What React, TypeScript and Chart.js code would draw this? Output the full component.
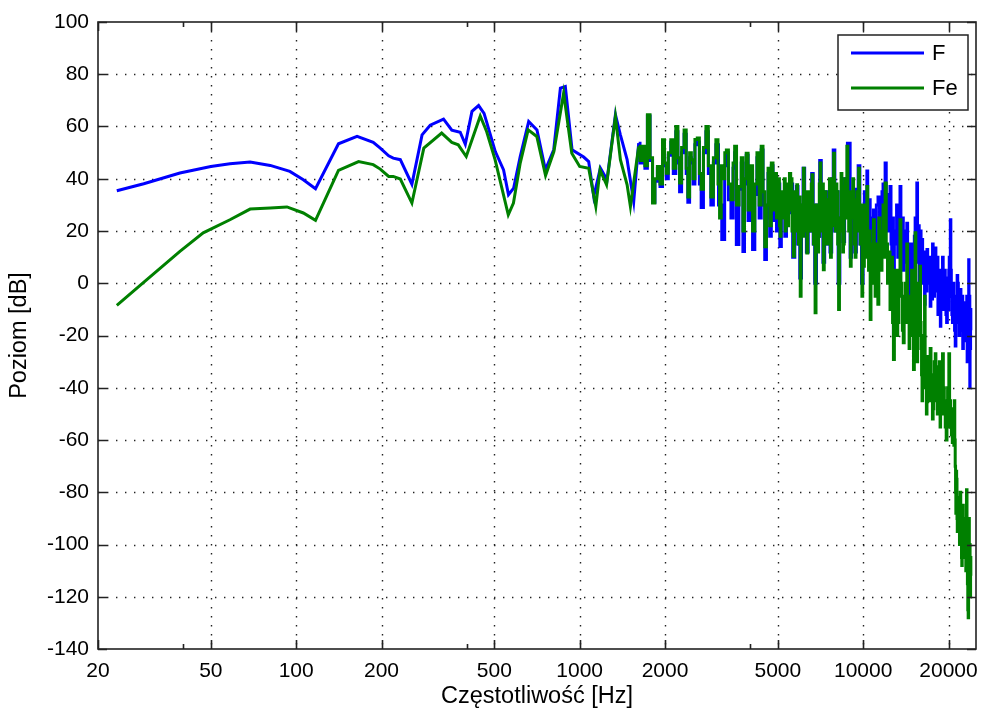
import React, { useEffect, useRef } from 'react';
import { Chart, registerables } from 'chart.js';

Chart.register(...registerables);

const xTickValues = [20, 50, 100, 200, 500, 1000, 2000, 5000, 10000, 20000];
const xMinorTickValues = [40, 400, 4000];
const yTickValues = [-140, -120, -100, -80, -60, -40, -20, 0, 20, 40, 60, 80, 100];

const seriesNames = ['F', 'Fe'];
const seriesColors = ['#0000ff', '#008000'];
// above this frequency the spectrum is dense and drawn as a stepped trace
const denseFrom = 1615;

// F (blue)
const freqF = [
  23.3, 29, 38.9, 50, 58.4, 68.8, 81, 95, 106, 117, 141, 164, 187, 198, 212, 220, 233, 256, 278, 297,
  331, 354, 379, 395, 417, 440, 460, 471, 504, 539, 561, 585, 617, 661, 707, 757, 810, 855, 890, 940,
  1033, 1076, 1121, 1183, 1249, 1337, 1392, 1470, 1551,
  1615, 1650, 1682, 1715, 1752, 1790, 1825, 1860, 1900, 1940, 1979, 2005, 2034, 2075, 2118, 2160, 2206,
  2235, 2267, 2310, 2361, 2390, 2424, 2460, 2494, 2530, 2570, 2628, 2660, 2705, 2760, 2817, 2870, 2935,
  2990, 3056, 3120, 3223, 3270, 3314, 3380, 3453, 3500, 3541, 3597, 3690, 3740, 3790, 3840, 3895, 3960,
  4030, 4115, 4180, 4260, 4330, 4405, 4460, 4530, 4587, 4650, 4710, 4775, 4840, 4905, 4990, 5050, 5110,
  5180, 5250, 5330, 5400, 5470, 5580, 5700, 5780, 5850, 5930, 6020, 6100, 6175, 6260, 6350, 6450, 6540,
  6625, 6700, 6790, 6900, 6980, 7070, 7160, 7260, 7370, 7470, 7570, 7700, 7790, 7890, 8000, 8100, 8220,
  8330, 8440, 8550, 8650, 8950, 9040, 9160, 9280, 9400, 9530, 9670, 9800, 9930,
  10060, 10130, 10200, 10270, 10340, 10410, 10480, 10550, 10620, 10690,
  10760, 10830, 10910, 10980, 11060, 11200, 11360, 11480, 11600, 11700,
  11800, 11900, 12000, 12120, 12250, 12370, 12500, 12570, 12650, 12740,
  12830, 12940, 13050, 13180, 13300, 13420, 13550, 13620, 13700, 13800,
  13900, 14000, 14100, 14200, 14300, 14390, 14480, 14560, 14650, 14760,
  14880, 14990, 15100, 15200, 15300, 15400, 15520, 15580, 15650, 15720,
  15800, 15870, 15950, 16050, 16160, 16250, 16330, 16420, 16500, 16580,
  16670, 16750, 16830, 16940, 17050, 17170, 17290, 17370, 17450, 17530,
  17600, 17700, 17800, 17900, 18000, 18100, 18200, 18300, 18400, 18500,
  18600, 18680, 18750, 18830, 18900, 19000, 19100, 19200, 19300, 19420,
  19530, 19640, 19750, 19870, 20000, 20080, 20150, 20250, 20340, 20420,
  20500, 20600, 20700, 20820, 20950, 21060, 21180, 21290, 21400, 21500,
  21600, 21720, 21850, 21950, 22060, 22180, 22300, 22400, 22500, 22620,
  22750, 22860, 22970, 23060, 23150, 23230, 23300, 23380, 23450, 23520,
  23600, 23650, 23700, 23750, 23800, 23850, 23900, 23950, 24000,
];
const levelF = [
  35.4, 38.1, 42.2, 44.7, 45.7, 46.4, 45.1, 42.8, 39.6, 36.2, 53.4, 56.2, 53.9, 51.7, 48.8, 47.9, 47.3, 37.9, 56.8, 60.5,
  62.8, 58.6, 57.8, 53.2, 65.8, 68, 65, 61.3, 50.4, 43.4, 33.9, 36.4, 48.5, 61.9, 58.7, 43.4, 51.1, 74.7, 75.3, 51.1,
  48.3, 46.6, 33.2, 44.1, 39.6, 64.5, 56.8, 47.3, 31.3,
  53.6, 46, 52, 44, 64, 47, 31, 39, 44, 37, 54, 45, 40, 49, 54, 42, 58,
  46, 35, 50, 57, 42, 31, 48, 46, 38, 53, 54, 38, 29, 50, 58, 42, 30,
  46, 53, 30, 16.7, 45, 50, 32, 25, 44, 50, 14.8, 36, 46, 12.2, 38, 49, 24,
  43, 12.9, 34, 48, 25, 51, 30, 9.1, 25, 42, 18, 45, 24, 41, 20, 38, 14.1,
  32, 31, 18, 36, 27, 38, 10, 28, 37, 15, 2, 30, 44, 20, 12, 34, 20,
  42, 15, 0, 30, 18, 47, 25, 8, 35, 15, 30, 12, 40, 51, 20, 35, 0,
  25, 38, 16, 40, 53.6, 10, 28, 33, 12, 36, 45, 15, 0,
  20, 35, 30, 15, 43, 25, 20, 32, 10, 22,
  25, 14, 28, 20, 12, 30, 33, 18, 20, 35,
  38, 22, 46, 30, 20, 34, 37, 15, 10, 25,
  -19, 15, 20, 30, 10, 28, 37, 20, 15, 25,
  5, 18, 20, 8, 23, 10, 0, 15, -5, 12,
  15, 0, 2.7, 18, 25, 8, 38.4, 15, 10, 22,
  0, 12, 20, 5, 16.7, 8, 0, 12, -8, 5,
  10, -3, 12.9, 3, 0, 10, -8.8, 2, 5, -6,
  15, 0, -5, 8, 13.5, -3, 0, 10, -12, 2,
  5, -8, -16.5, 0, 0, -10, 10, -5, -10, 5,
  0.2, -12, -15, 2, -10, 5, 10, -5, 24.3, 5,
  0, -12, -15, 0, -5, -18, -24, -5, -10, 3,
  0, -15, -20, -5, -2.4, -18, -15, -5, -25, -8,
  -10, -22, -7.5, -15, -20, -5, -30, -12, -10, -25,
  9, -15, -20, -5, -40, -20, -25, -10, -18,
];

// Fe (green)
const freqFe = [
  23.3, 28.9, 38.9, 47, 58.4, 68.8, 81, 92.8, 106, 117, 141, 166, 187, 198, 212, 220, 233, 256, 282, 326,
  354, 373, 398, 446, 470, 503, 560, 584, 617, 658, 706, 758, 811, 878, 938, 1000, 1076, 1140, 1180, 1244,
  1337, 1392, 1470, 1510, 1573,
  1615, 1650, 1682, 1715, 1752, 1790, 1825, 1860, 1900, 1940, 1979, 2005, 2034, 2075, 2118, 2160, 2206,
  2235, 2267, 2310, 2361, 2390, 2424, 2460, 2494, 2530, 2570, 2628, 2660, 2705, 2760, 2817, 2870, 2935,
  2990, 3056, 3095, 3135, 3180, 3230, 3270, 3314, 3380, 3453, 3500, 3541, 3610, 3690, 3740, 3790, 3840,
  3895, 3960, 4030, 4115, 4180, 4260, 4330, 4405, 4460, 4530, 4587, 4650, 4710, 4775, 4840, 4905,
  4990, 5020, 5050, 5080, 5110, 5150, 5180, 5215, 5250, 5290,
  5330, 5365, 5400, 5435, 5470, 5520, 5580, 5640, 5700, 5740,
  5780, 5815, 5850, 5890, 5930, 5975, 6020, 6060, 6100, 6140,
  6175, 6220, 6260, 6305, 6350, 6400, 6450, 6495, 6540, 6580,
  6625, 6660, 6700, 6745, 6790, 6845, 6900, 6940, 6980, 7025,
  7070, 7115, 7160, 7210, 7260, 7315, 7370, 7420, 7470, 7520,
  7570, 7635, 7700, 7745, 7790, 7840, 7890, 7945, 8000, 8050,
  8100, 8160, 8220, 8275, 8330, 8385, 8440, 8495, 8550, 8600,
  8650, 8720, 8800, 8860, 8920, 8980, 9040, 9100, 9160, 9220,
  9280, 9340, 9400, 9465, 9530, 9600, 9670, 9735, 9800, 9865,
  9930, 9995, 10060, 10130, 10200, 10270, 10340, 10410, 10480, 10550,
  10620, 10690, 10760, 10830, 10910, 10980, 11060, 11140, 11220, 11310,
  11400, 11500, 11600, 11700, 11800, 11900, 12000, 12120, 12250, 12370,
  12500, 12570, 12650, 12740, 12830, 12940, 13050, 13180, 13300, 13420,
  13550, 13620, 13700, 13800, 13900, 14000, 14100, 14200, 14300, 14390,
  14480, 14560, 14650, 14760, 14880, 14990, 15100, 15200, 15300, 15370,
  15450, 15520, 15600, 15670, 15750, 15820, 15900, 15960, 16030, 16100,
  16160, 16250, 16330, 16420, 16500, 16580, 16670, 16750, 16830, 16940,
  17050, 17170, 17290, 17400, 17500, 17600, 17700, 17780, 17850, 17920,
  18000, 18100, 18200, 18320, 18450, 18520, 18600, 18650, 18700, 18800,
  18900, 19000, 19100, 19250, 19400, 19550, 19700, 19800, 19900, 20000,
  20100, 20250, 20400, 20550, 20700, 20780, 20850, 20920, 21000, 21080,
  21150, 21200, 21250, 21320, 21400, 21450, 21500, 21650, 21800, 21920,
  22050, 22120, 22200, 22250, 22300, 22400, 22500, 22600, 22700, 22820,
  22950, 23080, 23200, 23280, 23350, 23420, 23500, 23580, 23650, 23720,
  23800, 23850, 23900, 23950, 24000,
];
const levelFe = [
  -8.5, 0.2, 12.2, 19.3, 24.3, 28.4, 28.8, 29.2, 26.9, 24.1, 43.2, 46.6, 45.4, 43.7, 40.9, 40.9, 39.9, 30.7, 51.7, 57.5,
  53.9, 53, 48.5, 64, 58, 47.3, 26.2, 30.7, 46, 58.7, 56.2, 41.2, 50.4, 72.8, 49.8, 44.7, 44, 29.4, 43.4, 37.7,
  63.8, 47.3, 37.7, 29.4, 43.4,
  52.4, 47, 52.4, 45, 64.5, 48, 30.7, 40, 44.7, 38, 54.9, 46, 42.1, 50, 54.9, 44, 60,
  48, 38.4, 52, 58.7, 44, 33, 50, 47.3, 40, 55, 55.6, 42, 36, 52, 60, 45, 33,
  48, 54.9, 38, 25, 45, 40, 50, 51, 38, 32, 46, 52.4, 30, 37, 48, 20, 40,
  49.8, 28, 45, 20, 38, 50, 30, 52.4, 35, 14, 30, 44, 22, 46, 28, 42,
  25, 36, 40, 22, 18, 30, 35, 25, 32, 40,
  20, 30, 38, 22, 28, 42, 40, 20, 10.3, 35,
  30, 20, 37.7, 28, 15, 33, -5, 25, 30, 18,
  44, 30, 20, 35, 11.6, 28, 35, 22, 20, 38,
  41.5, 25, 15, 30, -11.3, 20, 30, 12, 18, 38,
  46, 20, 25, 38, 5.2, 28, 35, 18, 15, 32,
  29.4, 40, 10, 25, 40, 22, 49.8, 30, 20, 38,
  35, 15, -10, 20, 25, 42, 37, 12, 15, 30,
  40, 25, 52.4, 30, 20, 35, 6.5, 25, 28, 40,
  32, 15, 10, 30, 35, 20, 44, 25, 15, 30,
  -5, 20, 6.5, 30, 25, 10, 37, 15, 5, 20,
  -13.9, 10, 15, 0, 24.3, 10, -5, 15, 0.2, -8,
  25, 10, 5, 20, 30, 10, 38.4, 15, 0, 12,
  -10, 5, 10, -15, -29.2, -5, 5, -20, -15, 5,
  24.3, 0, -5, -18, -22.8, -5, 0, -15, 15, -5,
  -10, -25, -17.7, -5, 5, -20, -33, -10, 19.3, -5,
  -15, -30, -20, -8, 0, -20, 6.5, -15, -25, -35,
  -45, -30, -20, -40, -5, -28, -35, -50, -45.4, -28,
  -30, -45, -25, -35, -40, -52, -48, -35, -30, -45,
  -27, -38, -40, -50, -44, -32, -30, -48, -55, -40,
  -35, -50, -27, -40, -45, -55, -60, -45, -40, -55,
  -27, -45, -50, -58, -61, -48, -50, -62, -45, -60,
  -70, -80, -88, -72, -75, -90, -95, -82, -85, -100,
  -80, -90, -95, -105, -108, -92, -85, -100, -90, -105,
  -100, -110, -79, -100, -115, -125, -128, -105, -90, -112,
  -100, -118, -120, -105, -112,
];

const FONT = '"Liberation Sans", Arial, sans-serif';

const matlabAxes = {
  id: 'matlabAxes',
  beforeDatasetsDraw(chart: any) {
    const { ctx, chartArea: a, scales } = chart;
    const x = scales.x;
    const y = scales.y;
    ctx.save();
    ctx.strokeStyle = '#222';
    ctx.lineWidth = 1.4;
    ctx.setLineDash([1.4, 7.6]);
    for (const t of xTickValues) {
      const px = Math.round(x.getPixelForValue(t)) + 0.5;
      if (px <= a.left + 2 || px >= a.right - 2) continue;
      ctx.beginPath();
      ctx.moveTo(px, a.top);
      ctx.lineTo(px, a.bottom);
      ctx.stroke();
    }
    for (const t of yTickValues) {
      const py = Math.round(y.getPixelForValue(t)) + 0.5;
      if (py <= a.top + 2 || py >= a.bottom - 2) continue;
      ctx.beginPath();
      ctx.moveTo(a.left, py);
      ctx.lineTo(a.right, py);
      ctx.stroke();
    }
    ctx.restore();
  },
  afterDatasetsDraw(chart: any) {
    const { ctx, chartArea: a, scales } = chart;
    const x = scales.x;
    const y = scales.y;
    ctx.save();
    ctx.setLineDash([]);
    ctx.strokeStyle = '#222';
    ctx.lineWidth = 1.6;
    ctx.strokeRect(a.left, a.top, a.right - a.left, a.bottom - a.top);
    const L = 9;
    ctx.beginPath();
    for (const t of xTickValues) {
      const px = Math.round(x.getPixelForValue(t)) + 0.5;
      ctx.moveTo(px, a.bottom);
      ctx.lineTo(px, a.bottom - L);
      ctx.moveTo(px, a.top);
      ctx.lineTo(px, a.top + L);
    }
    for (const t of xMinorTickValues) {
      const px = Math.round(x.getPixelForValue(t)) + 0.5;
      ctx.moveTo(px, a.bottom);
      ctx.lineTo(px, a.bottom - 5);
      ctx.moveTo(px, a.top);
      ctx.lineTo(px, a.top + 5);
    }
    for (const t of yTickValues) {
      const py = Math.round(y.getPixelForValue(t)) + 0.5;
      ctx.moveTo(a.left, py);
      ctx.lineTo(a.left + L, py);
      ctx.moveTo(a.right, py);
      ctx.lineTo(a.right - L, py);
    }
    ctx.stroke();

    // legend box (MATLAB style, inside the axes at top-right)
    const bw = 130;
    const bh = 75;
    const bx = a.right - 138;
    const by = a.top + 13;
    ctx.fillStyle = '#fff';
    ctx.fillRect(bx, by, bw, bh);
    ctx.lineWidth = 1.5;
    ctx.strokeStyle = '#222';
    ctx.strokeRect(bx, by, bw, bh);
    ctx.font = `22px ${FONT}`;
    ctx.textBaseline = 'middle';
    ctx.textAlign = 'left';
    seriesNames.forEach((name, i) => {
      const ly = by + 18 + i * 35;
      ctx.strokeStyle = seriesColors[i];
      ctx.lineWidth = 3;
      ctx.beginPath();
      ctx.moveTo(bx + 13, ly);
      ctx.lineTo(bx + 86, ly);
      ctx.stroke();
      ctx.fillStyle = '#000';
      ctx.fillText(name, bx + 94, ly + 1);
    });
    ctx.restore();
  },
};

function toPoints(freqs: number[], levels: number[], dense: boolean) {
  const pts: { x: number; y: number }[] = [];
  freqs.forEach((f, i) => {
    if (dense ? f >= denseFrom : f <= denseFrom) pts.push({ x: f, y: levels[i] });
  });
  return pts;
}

function makeDatasets(name: string, color: string, freqs: number[], levels: number[], order: number) {
  const base = {
    label: name,
    borderColor: color,
    backgroundColor: color,
    borderWidth: 3,
    pointRadius: 0,
    tension: 0,
    order,
  };
  return [
    { ...base, data: toPoints(freqs, levels, false) },
    { ...base, data: toPoints(freqs, levels, true), stepped: 'middle' as const },
  ];
}

export default function App() {
  const canvasRef = useRef<HTMLCanvasElement | null>(null);

  useEffect(() => {
    const canvas = canvasRef.current;
    if (!canvas) return;
    const chart = new Chart(canvas, {
      type: 'line',
      data: {
        datasets: [
          ...makeDatasets(seriesNames[0], seriesColors[0], freqF, levelF, 2),
          ...makeDatasets(seriesNames[1], seriesColors[1], freqFe, levelFe, 1),
        ],
      },
      options: {
        responsive: false,
        animation: false,
        events: [],
        layout: { padding: { left: 0, top: 22, right: 5, bottom: 0 } },
        plugins: {
          legend: { display: false },
          tooltip: { enabled: false },
        },
        scales: {
          x: {
            type: 'logarithmic',
            min: 20,
            max: 25000,
            grid: { display: false },
            border: { display: false },
            afterBuildTicks: (scale: any) => {
              scale.ticks = xTickValues.map((v) => ({ value: v }));
            },
            afterFit: (scale: any) => {
              scale.height = 66;
            },
            ticks: {
              autoSkip: false,
              maxRotation: 0,
              padding: 2,
              color: '#000',
              font: { family: FONT, size: 21 },
              callback: (v: any) => String(v),
            },
            title: {
              display: true,
              text: 'Częstotliwość [Hz]',
              color: '#000',
              font: { family: FONT, size: 23.5 },
              padding: { top: 0, bottom: 4 },
            },
          },
          y: {
            type: 'linear',
            min: -140,
            max: 100,
            grid: { display: false },
            border: { display: false },
            afterBuildTicks: (scale: any) => {
              scale.ticks = yTickValues.map((v) => ({ value: v }));
            },
            afterFit: (scale: any) => {
              scale.width = 98;
            },
            ticks: {
              autoSkip: false,
              padding: 1,
              color: '#000',
              font: { family: FONT, size: 21 },
              callback: (v: any) => String(v),
            },
            title: {
              display: true,
              text: 'Poziom [dB]',
              color: '#000',
              font: { family: FONT, size: 23.5 },
              padding: { top: 5, bottom: 4 },
            },
          },
        },
      },
      plugins: [matlabAxes],
    });
    return () => chart.destroy();
  }, []);

  return (
    <div style={{ position: 'fixed', left: 0, top: 0, width: 981, height: 715, background: '#fff' }}>
      <canvas ref={canvasRef} width={981} height={715} style={{ display: 'block' }} />
    </div>
  );
}
